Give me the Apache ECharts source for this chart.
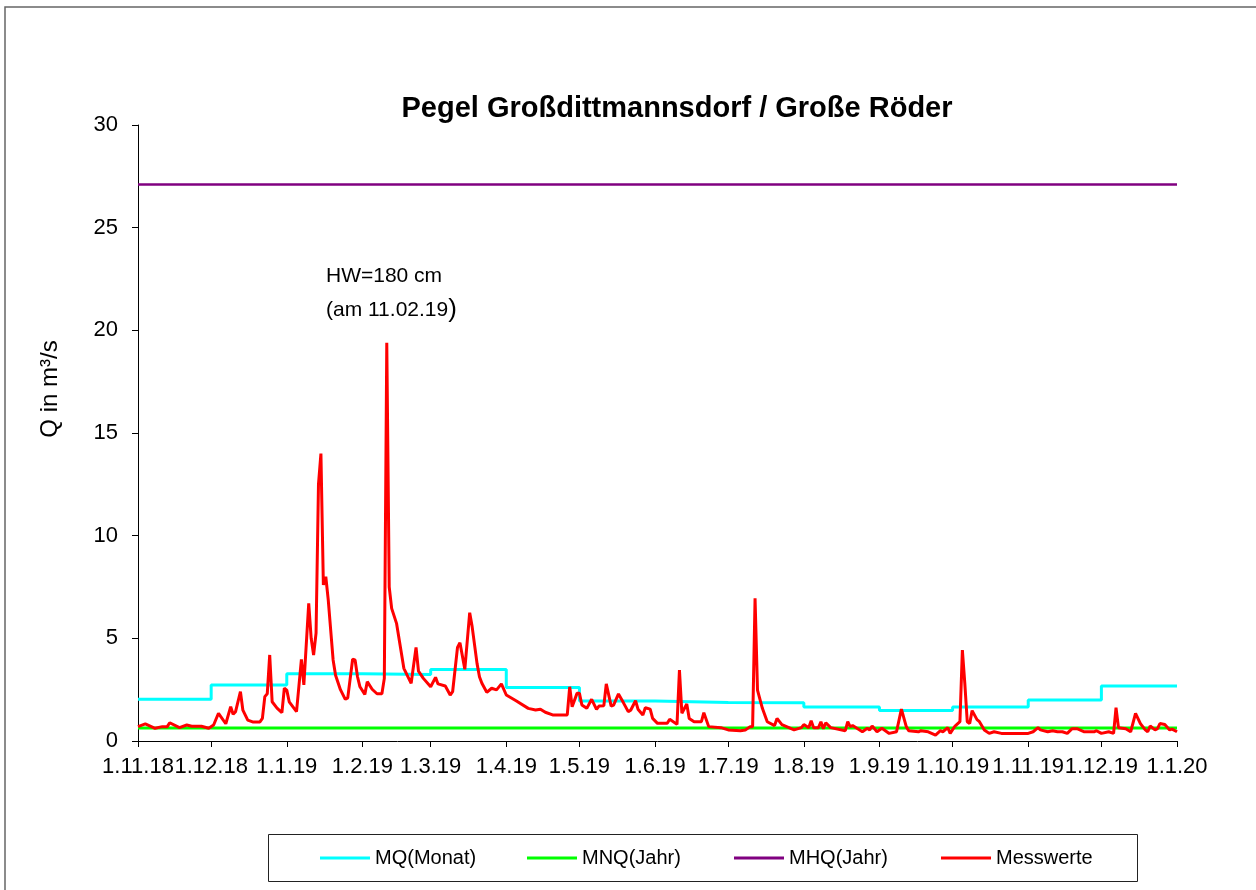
<!DOCTYPE html>
<html>
<head>
<meta charset="utf-8">
<title>Pegel Großdittmannsdorf / Große Röder</title>
<script src="https://cdn.jsdelivr.net/npm/echarts@6/dist/echarts.min.js"></script>
<style>
    html, body { margin: 0; padding: 0; background: #fff; }
    #chart { width: 1256px; height: 890px; }
</style>
</head>
<body>
<div id="chart"></div>
<script>
    // Zeitraum: 1.11.2018 bis 1.1.2020, Tage ab Start
    var startJahr = 2018, startMonat = 10, startTag = 1;
    var letzterTag = 426;

    // MQ(Monat): Monatsmittel, jeweils ab Monatsanfang
    var mqMonate = ['2018-11', '2018-12', '2019-01', '2019-02', '2019-03', '2019-04', '2019-05',
                    '2019-06', '2019-07', '2019-08', '2019-09', '2019-10', '2019-11', '2019-12'];
    var mqWerte = [2.03, 2.73, 3.28, 3.24, 3.48, 2.60, 1.95, 1.87, 1.86, 1.66, 1.48, 1.66, 2.00, 2.68];

    // MNQ / MHQ (Jahr)
    var mnqWert = 0.63;
    var mhqWert = 27.1;

    // Messwerte: Tag ab 1.11.18 und Abfluss in m³/s
    var messTage = [
        0, 3, 7, 10, 12, 13, 17, 20, 22, 26,
        29, 31, 33, 36, 38, 39, 40, 42, 43, 45,
        47, 50, 51, 52, 53, 54, 55, 57, 59, 60,
        61, 62, 65, 67, 68, 70, 71, 72, 73, 74,
        75, 76, 77, 78, 80, 81, 83, 85, 86, 88,
        89, 90, 91, 93, 94, 96, 98, 100, 101, 102,
        103, 104, 106, 108, 109, 112, 114, 115, 117, 120,
        122, 123, 126, 128, 129, 131, 132, 134, 136, 137,
        139, 140, 141, 143, 145, 147, 149, 151, 155, 160,
        163, 165, 167, 170, 176, 177, 178, 180, 181, 182,
        184, 186, 188, 189, 191, 192, 194, 195, 197, 199,
        201, 202, 204, 205, 207, 208, 210, 211, 213, 217,
        218, 221, 222, 223, 225, 226, 228, 231, 232, 234,
        239, 242, 247, 249, 251, 252, 253, 254, 256, 258,
        261, 262, 264, 269, 272, 273, 275, 276, 277, 279,
        280, 281, 282, 284, 290, 291, 292, 293, 297, 299,
        300, 301, 303, 305, 308, 311, 313, 315, 316, 320,
        321, 324, 327, 329, 330, 332, 333, 335, 337, 338,
        339, 340, 341, 342, 344, 345, 347, 349, 351, 354,
        365, 367, 369, 370, 373, 375, 377, 379, 381, 383,
        385, 388, 392, 393, 395, 398, 400, 401, 402, 405,
        407, 409, 411, 413, 414, 415, 417, 418, 419, 421,
        423, 424, 426
    ];
    var messWerte = [
        0.70, 0.83, 0.62, 0.70, 0.70, 0.89, 0.65, 0.78, 0.72, 0.72,
        0.62, 0.78, 1.35, 0.84, 1.67, 1.30, 1.43, 2.40, 1.50, 1.02,
        0.93, 0.93, 1.10, 2.16, 2.30, 4.19, 1.91, 1.60, 1.38, 2.57,
        2.48, 1.91, 1.43, 3.98, 2.73, 6.70, 5.00, 4.19, 5.25, 12.5,
        14.0, 7.60, 8.00, 6.87, 3.95, 3.20, 2.50, 2.03, 2.10, 3.98,
        3.95, 3.13, 2.64, 2.27, 2.89, 2.52, 2.30, 2.30, 3.05, 19.4,
        7.50, 6.46, 5.73, 4.27, 3.54, 2.81, 4.56, 3.40, 3.05, 2.64,
        3.10, 2.78, 2.68, 2.24, 2.40, 4.56, 4.79, 3.49, 6.25, 5.57,
        3.78, 3.13, 2.81, 2.37, 2.57, 2.49, 2.78, 2.24, 1.96, 1.59,
        1.51, 1.55, 1.40, 1.27, 1.27, 2.64, 1.67, 2.32, 2.32, 1.75,
        1.59, 2.03, 1.54, 1.70, 1.72, 2.78, 1.70, 1.75, 2.29, 1.87,
        1.43, 1.50, 1.96, 1.55, 1.27, 1.62, 1.55, 1.10, 0.86, 0.86,
        1.06, 0.81, 3.45, 1.35, 1.80, 1.10, 0.94, 0.94, 1.38, 0.70,
        0.65, 0.54, 0.50, 0.54, 0.70, 0.70, 6.95, 2.48, 1.59, 0.94,
        0.75, 1.10, 0.80, 0.54, 0.65, 0.80, 0.65, 0.99, 0.65, 0.65,
        0.94, 0.60, 0.89, 0.65, 0.50, 0.94, 0.70, 0.75, 0.45, 0.62,
        0.54, 0.73, 0.45, 0.62, 0.37, 0.45, 1.55, 0.70, 0.50, 0.45,
        0.50, 0.45, 0.29, 0.50, 0.45, 0.65, 0.37, 0.73, 0.94, 4.43,
        2.81, 0.94, 0.85, 1.48, 1.04, 0.94, 0.54, 0.37, 0.45, 0.37,
        0.37, 0.45, 0.65, 0.54, 0.45, 0.50, 0.45, 0.45, 0.37, 0.60,
        0.60, 0.45, 0.45, 0.50, 0.37, 0.45, 0.37, 1.62, 0.65, 0.60,
        0.45, 1.35, 0.85, 0.54, 0.45, 0.73, 0.54, 0.60, 0.85, 0.80,
        0.54, 0.58, 0.45
    ];

    var legendeNamen = ['MQ(Monat)', 'MNQ(Jahr)', 'MHQ(Jahr)', 'Messwerte'];

    var schrift = '"Liberation Sans", Arial, sans-serif';

    /**
     * Tag ab Start in Zeitstempel umrechnen
     */
    var tagZuZeit = function(tag){
        return new Date(startJahr, startMonat, startTag + tag).getTime();
    };

    var monatZuZeit = function(monat){
        var teile = monat.split('-');
        return new Date(+teile[0], +teile[1] - 1, 1).getTime();
    };

    // Datum wie im Original: 1.11.18
    var datumText = function(wert){
        var d = new Date(wert);
        return d.getDate() + '.' + (d.getMonth() + 1) + '.' + String(d.getFullYear()).slice(2);
    };

    var mqDaten = mqMonate.map(function(m, i){ return [monatZuZeit(m), mqWerte[i]]; });
    mqDaten.push([tagZuZeit(letzterTag), mqWerte[mqWerte.length - 1]]);

    var messDaten = messTage.map(function(t, i){ return [tagZuZeit(t), messWerte[i]]; });

    // Excel setzt die Legendeneinträge in gleich breite Spalten: je Eintrag eine Legende
    var legenden = legendeNamen.map(function(name, i){
        return {
            left: 320 + i * 207, top: 848,
            padding: 0,
            itemWidth: 50, itemHeight: 3,
            icon: 'rect',
            textStyle: { fontSize: 20, fontFamily: schrift, color: '#000' },
            data: [name]
        };
    });

    var chart = echarts.init(document.getElementById('chart'));

    chart.setOption({
        backgroundColor: '#fff',
        animation: false,
        textStyle: { fontFamily: schrift, color: '#000' },
        grid: { left: 138, right: 79, top: 125, bottom: 149 },
        graphic: [
            {
                type: 'rect', silent: true,
                shape: { x: 5, y: 7, width: 1280, height: 920 },
                style: { fill: null, stroke: '#666', lineWidth: 1.5 }
            },
            {
                type: 'rect', silent: true,
                shape: { x: 268.5, y: 834.5, width: 869, height: 47 },
                style: { fill: null, stroke: '#222', lineWidth: 1 }
            },
            {
                type: 'text', x: 677, y: 109,
                style: { text: 'Pegel Großdittmannsdorf / Große Röder', font: 'bold 29px ' + schrift,
                         fill: '#000', align: 'center', verticalAlign: 'middle' }
            },
            {
                type: 'text', x: 50, y: 389, rotation: Math.PI / 2,
                style: { text: 'Q in m³/s', font: '24px ' + schrift, fill: '#000',
                         align: 'center', verticalAlign: 'middle' }
            },
            {
                type: 'text', x: 326, y: 276,
                style: { text: 'HW=180 cm', font: '21px ' + schrift, fill: '#000', verticalAlign: 'middle' }
            },
            {
                type: 'text', x: 326, y: 310,
                style: {
                    text: '{a|(am 11.02.19}{b|)}', verticalAlign: 'middle',
                    rich: {
                        a: { fontSize: 21, fontFamily: schrift, fill: '#000' },
                        b: { fontSize: 26, fontFamily: schrift, fill: '#000' }
                    }
                }
            }
        ],
        legend: legenden,
        xAxis: {
            type: 'time',
            min: tagZuZeit(0),
            max: tagZuZeit(letzterTag),
            splitNumber: 14,
            axisLine: { lineStyle: { color: '#000', width: 1 } },
            axisTick: { show: true, length: 6, lineStyle: { color: '#000' } },
            axisLabel: {
                formatter: datumText, fontSize: 22, fontFamily: schrift, color: '#000',
                margin: 15, showMinLabel: true, showMaxLabel: true, hideOverlap: false
            },
            splitLine: { show: false }
        },
        yAxis: {
            type: 'value',
            min: 0, max: 30, interval: 5,
            axisLine: { show: true, lineStyle: { color: '#000', width: 1 } },
            axisTick: { show: true, length: 6, lineStyle: { color: '#000' } },
            axisLabel: { fontSize: 22, fontFamily: schrift, color: '#000', margin: 20 },
            splitLine: { show: false }
        },
        series: [
            {
                name: 'MQ(Monat)', type: 'line', step: 'end', showSymbol: false,
                color: '#00ffff', lineStyle: { color: '#00ffff', width: 3 },
                data: mqDaten
            },
            {
                name: 'MNQ(Jahr)', type: 'line', showSymbol: false,
                color: '#00ff00', lineStyle: { color: '#00ff00', width: 3 },
                data: [[tagZuZeit(0), mnqWert], [tagZuZeit(letzterTag), mnqWert]]
            },
            {
                name: 'MHQ(Jahr)', type: 'line', showSymbol: false,
                color: '#800080', lineStyle: { color: '#800080', width: 2.5 },
                data: [[tagZuZeit(0), mhqWert], [tagZuZeit(letzterTag), mhqWert]]
            },
            {
                name: 'Messwerte', type: 'line', showSymbol: false,
                color: '#ff0000', lineStyle: { color: '#ff0000', width: 3 },
                data: messDaten
            }
        ]
    });
</script>
</body>
</html>
